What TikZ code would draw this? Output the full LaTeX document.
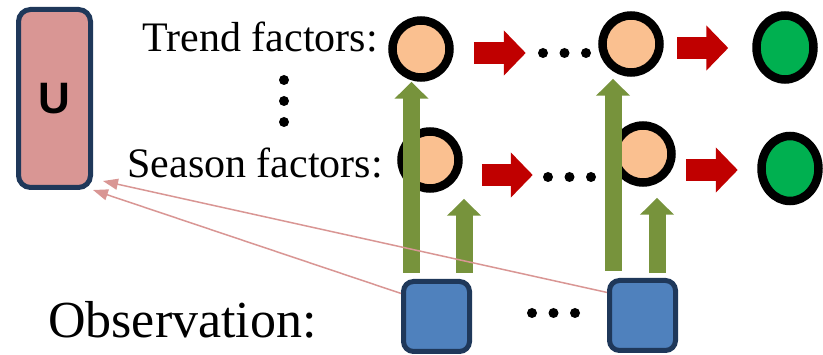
\documentclass[tikz,border=0pt]{standalone}
\usepackage{fontspec}
\setmainfont{Liberation Serif}
\setsansfont{Liberation Sans}
\usepackage{tikz}
\usetikzlibrary{arrows.meta, positioning, shapes.geometric}

\definecolor{Peach}{RGB}{250, 192, 144}
\definecolor{Leaf}{RGB}{0, 176, 80}
\definecolor{DeepRed}{RGB}{192, 0, 0}
\definecolor{Olive}{RGB}{119, 147, 60}
\definecolor{ObsBlue}{RGB}{79, 129, 189}
\definecolor{Navy}{RGB}{31, 56, 90}
\definecolor{Rose}{RGB}{217, 150, 148}

\begin{document}
\begin{tikzpicture}[x=1pt, y=-1pt,
        factor/.style={circle, draw=black, line width=8.5pt, fill=Peach, minimum size=57pt, inner sep=0pt},
        future/.style={ellipse, draw=black, line width=8.5pt, fill=Leaf, minimum width=57pt, minimum height=64pt, inner sep=0pt},
        obs/.style={rectangle, rounded corners=10pt, draw=Navy, line width=5pt, fill=ObsBlue, minimum width=66pt, minimum height=70pt},
        ubox/.style={rectangle, rounded corners=12pt, draw=Navy, line width=5pt, fill=Rose, minimum width=72pt, minimum height=178pt},
        lbl/.style={inner sep=0pt, font=\fontsize{42}{48}\selectfont},
        dot/.style={circle, fill=black, minimum size=10pt, inner sep=0pt},
        redarrow/.style={draw=DeepRed, line width=22pt, -{Triangle[width=44pt, length=22pt]}},
        greenarrow/.style={draw=Olive, line width=17pt, -{Triangle[width=33pt, length=17pt]}},
        link/.style={draw=Rose, line width=1.5pt, -{Triangle[width=11pt, length=15pt]}}
    ]
    \useasboundingbox (0,0) rectangle (823,355);

    % U matrix
    \node[ubox, font=\sffamily\bfseries\fontsize{44}{44}\selectfont] (u) at (54.5,98.5) {U};

    % row labels
    \node[lbl, anchor=base east] (trend) at (378,52) {Trend factors:};
    \node[lbl, anchor=base east] (season) at (383,178) {Season factors:};
    \node[lbl, anchor=base west, font=\fontsize{52}{58}\selectfont] (observ) at (48,338) {Observation:};

    % factors
    \node[factor] (t1) at (421,49) {};
    \node[factor] (t2) at (631,44) {};
    \node[future] (tf) at (785,47.5) {};
    \node[factor] (s1) at (430,160) {};
    \node[factor] (s2) at (643,154) {};
    \node[future, minimum height=65pt] (sf) at (790,168.5) {};

    % observations
    \node[obs] (o1) at (436.5,316.5) {};
    \node[obs] (o2) at (642.5,315.5) {};

    % dots
    \foreach \i in {0,1,2} {
        \node[dot] (td\i) at (543+21.5*\i,53) {};
        \node[dot] (sd\i) at (548+21.5*\i,177) {};
        \node[dot] (od\i) at (532+21.5*\i,313) {};
        \node[dot] (vd\i) at (284,80+21*\i) {};
    }

    % transitions
    \draw[redarrow] ([xshift=20pt, yshift=-4pt]t1.east) -- ++(52,0);
    \draw[redarrow] ([xshift=13.5pt, yshift=-4pt]t2.east) -- ++(51,0);
    \draw[redarrow] ([xshift=19pt, yshift=-15pt]s1.east) -- ++(51,0);
    \draw[redarrow] ([xshift=10pt, yshift=-16pt]s2.east) -- ++(52,0);

    % emissions
    \coordinate (g1) at ([xshift=-25pt, yshift=6pt]o1.north);
    \coordinate (g2) at ([xshift=27.5pt, yshift=6pt]o1.north);
    \coordinate (g3) at ([xshift=-29.5pt, yshift=7pt]o2.north);
    \coordinate (g4) at ([xshift=14.5pt, yshift=5pt]o2.north);
    \draw[greenarrow] (g1) -- (g1 |- t1.south);
    \draw[greenarrow, shorten >=6pt] (g2) -- (g2 |- s1.south);
    \draw[greenarrow, shorten >=2pt] (g3) -- (g3 |- t2.south);
    \draw[greenarrow, shorten >=11pt] (g4) -- (g4 |- s2.south);

    % links to U
    \draw[link] (o1.147) -- (u.south east);
    \draw[link] (o2.147) -- ([xshift=10pt, yshift=9pt]u.south east);
\end{tikzpicture}
\end{document}
